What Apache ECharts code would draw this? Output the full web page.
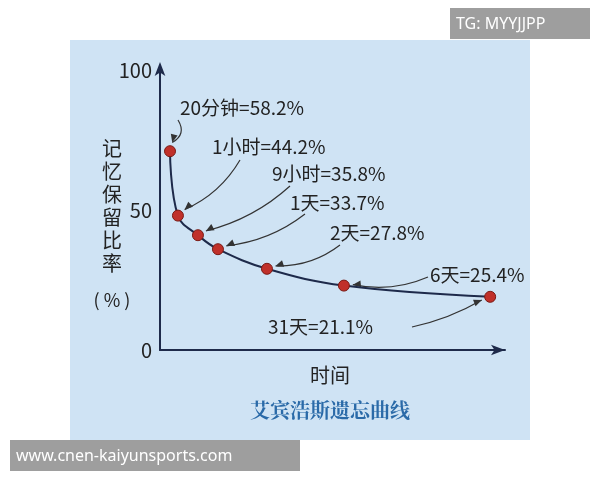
<!DOCTYPE html>
<html>
<head>
<meta charset="utf-8">
<script src="https://cdn.jsdelivr.net/npm/echarts@6/dist/echarts.min.js"></script>
<style>html,body{margin:0;background:#fff}#c{width:600px;height:480px}</style>
</head>
<body>
<div id="c"></div>
<script>
// 位置(横轴) 与 曲线高度(纵轴, 图上读取)
const xPos = [2.9, 5.2, 11, 16.8, 31, 53.3, 95.7]
const yPos = [71, 48, 41, 36, 29, 23, 19]
const labels = ["20分钟=58.2%", "1小时=44.2%", "9小时=35.8%", "1天=33.7%", "2天=27.8%", "6天=25.4%", "31天=21.1%"]
// 标注文字位置 [x, y] 和箭头起点
const labelPos = [[180,108],[212,147],[272,174],[290,203],[330,233],[430,275],[268,327]]
const arrowFrom = [[178,120],[240,160],[290,186],[305,214],[340,245],[428,277],[412,327]]
const bend = [12,12,12,12,12,12,-6]

const chart = echarts.init(document.getElementById("c"))
const ink = "#1e2a4a"

const option = {
    animation:false,
    grid:{left:160,top:70,right:95,bottom:130},
    xAxis:{type:"value",min:0,max:100,
        axisLine:{lineStyle:{color:ink,width:2},symbol:["none","arrow"],symbolSize:[8,14]},
        axisTick:{show:false},axisLabel:{show:false},splitLine:{show:false}},
    yAxis:{type:"value",min:0,max:100,interval:50,
        axisLine:{show:true,lineStyle:{color:ink,width:2},symbol:["none","arrow"],symbolSize:[8,14],symbolOffset:[0,8]},
        axisTick:{show:false},splitLine:{show:false},
        axisLabel:{color:"#222",fontSize:20,margin:8,fontFamily:"Noto Sans CJK SC"}},
    series:[{
        type:"line",smooth:0.4,
        data:xPos.map((x,i)=>[x,yPos[i]]),
        symbol:"circle",symbolSize:11,
        lineStyle:{color:ink,width:2},
        itemStyle:{color:"#c0302a",borderColor:"#7a1a14",borderWidth:1},
        z:5
    }]
}
chart.setOption(option)

const txt = (x,y,t,o,z) => ({type:"text",x,y,z:z||20,style:Object.assign({text:t,fill:"#222",font:"18px 'Noto Sans CJK SC'",textVerticalAlign:"middle"},o||{})})
const graphics = [
    {type:"rect",shape:{x:70,y:40,width:460,height:400},style:{fill:"#cfe3f4"},z:-10},
    {type:"rect",shape:{x:450,y:8,width:140,height:31},style:{fill:"#9e9e9e"},z:10},
    txt(456,24,"TG: MYYJJPP",{fill:"#fff",font:"16px 'Noto Sans'"},30),
    {type:"rect",shape:{x:10,y:440,width:290,height:31},style:{fill:"#9e9e9e"},z:10},
    txt(16,456,"www.cnen-kaiyunsports.com",{fill:"#fff",font:"16px 'Noto Sans'"},30),
    txt(330,375,"时间",{textAlign:"center",font:"20px 'Noto Sans CJK SC'"}),
    txt(330,410,"艾宾浩斯遗忘曲线",{textAlign:"center",fill:"#2a6aa8",font:"bold 20px 'Noto Serif CJK SC', 'Noto Sans CJK SC'"}),
    txt(112,300,"( % )",{textAlign:"center",font:"18px 'Noto Sans CJK SC'"})
]
"记忆保留比率".split("").forEach((ch,i)=>graphics.push(txt(112,148+i*23,ch,{textAlign:"center",font:"20px 'Noto Sans CJK SC'"})))
labels.forEach((t,i)=>{
    graphics.push(txt(labelPos[i][0],labelPos[i][1],t,{font:"19px 'Noto Sans CJK SC'"}))
    const p = chart.convertToPixel({gridIndex:0},[xPos[i],yPos[i]])
    const s = arrowFrom[i]
    const dx = p[0]-s[0], dy = p[1]-s[1], len = Math.hypot(dx,dy)
    const ux = dx/len, uy = dy/len
    const e = [p[0]-ux*9, p[1]-uy*9]
    const cp = [ (s[0]+e[0])/2 + uy*bend[i], (s[1]+e[1])/2 - ux*bend[i] ]
    graphics.push({type:"bezierCurve",shape:{x1:s[0],y1:s[1],x2:e[0],y2:e[1],cpx1:cp[0],cpy1:cp[1]},style:{stroke:"#333",lineWidth:1.2,fill:null}})
    const bx = e[0]-ux*8, by = e[1]-uy*8
    graphics.push({type:"polygon",shape:{points:[[e[0],e[1]],[bx+uy*3.5,by-ux*3.5],[bx-uy*3.5,by+ux*3.5]]},style:{fill:"#333"}})
})
chart.setOption({graphic:graphics})
</script>
</body>
</html>
